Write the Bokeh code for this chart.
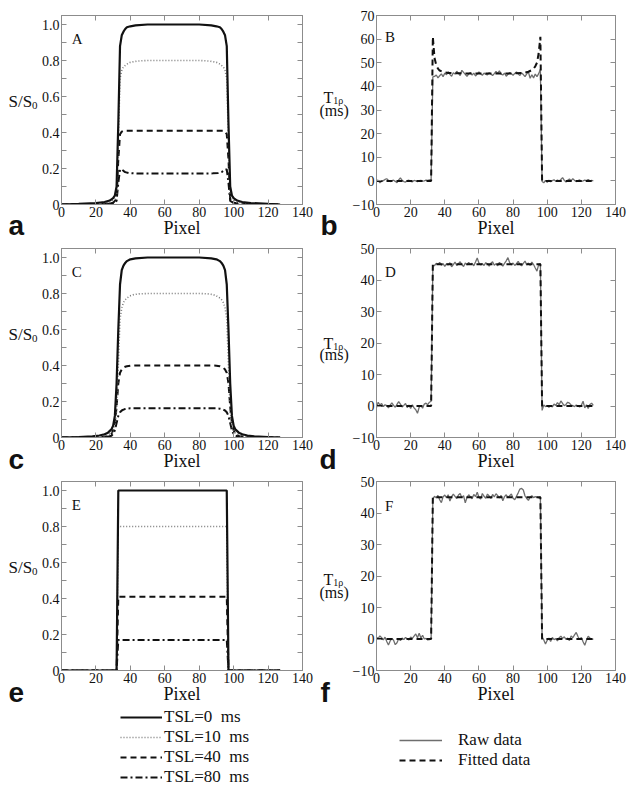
from bokeh.plotting import figure
from bokeh.layouts import column, row
from bokeh.models import (LinearAxis, FixedTicker, Label, Legend, LegendItem,
                          Range1d, PrintfTickFormatter, Plot)
from bokeh.core.properties import value
from bokeh.embed import file_html
from bokeh.resources import INLINE

SERIF = "Liberation Serif"
SANS = "Liberation Sans"
GRAY = "#8c8c8c"
INK = "#111111"
NAN = float("nan")

# ---------------- data ----------------
PIXELS = list(range(128))
X_TICKS = [0, 20, 40, 60, 80, 100, 120, 140]
S_TICKS = [0, 0.2, 0.4, 0.6, 0.8, 1.0]
S_MINOR = [0.1, 0.3, 0.5, 0.7, 0.9]
T_TICKS_B = [-10, 0, 10, 20, 30, 40, 50, 60, 70]
T_TICKS_DF = [-10, 0, 10, 20, 30, 40, 50]
TSL_LABELS = ["TSL=0\u2002ms", "TSL=10\u2002ms", "TSL=40\u2002ms", "TSL=80\u2002ms"]
T1R_LABELS = ["Raw data", "Fitted data"]
PANEL_TAGS = ["A", "B", "C", "D", "E", "F"]
PANEL_LETTERS = ["a", "b", "c", "d", "e", "f"]

# panel A : simulated signal, TSL = 0, 10, 40, 80 ms
A_X0 = [0, 10, 20, 25, 28, 30, 31, 32, 33, 34, 35, 36, 37, 38, 40, 43, 50, 65, 80, 87,
        90, 92, 93, 94, 95, 96, 97, 98, 99, 100, 102, 105, 110, 120, 127]
A_Y0 = [0.0, 0.003, 0.008, 0.014, 0.022, 0.035, 0.05, 0.1, 0.45, 0.88, 0.94, 0.96, 0.975, 0.985, 0.99, 0.995, 1.0, 1.0, 1.0, 0.995,
        0.99, 0.985, 0.975, 0.96, 0.94, 0.88, 0.45, 0.1, 0.05, 0.035, 0.022, 0.014, 0.008, 0.003, 0.0]
A_X1 = [0, 20, 28, 31, 32, 33, 34, 35, 36, 38, 40, 44, 50, 65, 80, 86, 90, 92, 94, 95,
        96, 97, 98, 99, 102, 110, 127]
A_Y1 = [0.0, 0.004, 0.012, 0.03, 0.06, 0.35, 0.7, 0.745, 0.765, 0.78, 0.79, 0.797, 0.8, 0.8, 0.8, 0.797, 0.79, 0.78, 0.765, 0.745,
        0.7, 0.35, 0.06, 0.03, 0.012, 0.004, 0.0]
A_X2 = [0, 25, 30, 32, 33, 34, 35, 36, 38, 65, 92, 94, 95, 96, 97, 98, 100, 105, 127]
A_Y2 = [0.0, 0.003, 0.01, 0.03, 0.25, 0.39, 0.405, 0.41, 0.41, 0.41, 0.41, 0.41, 0.405, 0.39, 0.25, 0.03, 0.01, 0.003, 0.0]
A_X3 = [0, 25, 30, 32, 33, 34, 35, 36, 37, 39, 42, 50, 65, 80, 88, 91, 93, 94, 95, 96,
        97, 98, 100, 105, 127]
A_Y3 = [0.0, 0.002, 0.008, 0.02, 0.12, 0.195, 0.195, 0.187, 0.18, 0.175, 0.173, 0.172, 0.172, 0.172, 0.173, 0.175, 0.18, 0.187, 0.195, 0.195,
        0.12, 0.02, 0.008, 0.002, 0.0]

# panel C
C_X0 = [0, 10, 18, 22, 25, 27, 29, 30, 31, 32, 33, 34, 35, 36, 37, 38, 40, 43, 50, 65,
        80, 87, 90, 92, 93, 94, 95, 96, 97, 98, 99, 100, 101, 103, 105, 108, 112, 120, 127]
C_Y0 = [0.0, 0.002, 0.006, 0.011, 0.018, 0.027, 0.045, 0.065, 0.12, 0.3, 0.6, 0.85, 0.93, 0.955, 0.97, 0.98, 0.99, 0.995, 1.0, 1.0,
        1.0, 0.995, 0.99, 0.98, 0.97, 0.955, 0.93, 0.85, 0.6, 0.3, 0.12, 0.065, 0.045, 0.027, 0.018, 0.011, 0.006, 0.002, 0.0]
C_X1 = [0, 20, 26, 29, 31, 32, 33, 34, 35, 36, 37, 38, 40, 42, 45, 50, 65, 80, 85, 88,
        90, 92, 93, 94, 95, 96, 97, 98, 99, 101, 104, 110, 127]
C_Y1 = [0.0, 0.003, 0.01, 0.025, 0.06, 0.15, 0.4, 0.66, 0.72, 0.75, 0.765, 0.775, 0.787, 0.794, 0.798, 0.8, 0.8, 0.8, 0.798, 0.794,
        0.787, 0.775, 0.765, 0.75, 0.72, 0.66, 0.4, 0.15, 0.06, 0.025, 0.01, 0.003, 0.0]
C_X2 = [0, 22, 27, 29, 30, 31, 32, 33, 34, 35, 36, 37, 38, 40, 43, 50, 65, 80, 87, 90,
        92, 93, 94, 95, 96, 97, 98, 99, 100, 101, 103, 108, 127]
C_Y2 = [0.0, 0.002, 0.008, 0.02, 0.04, 0.08, 0.17, 0.3, 0.36, 0.378, 0.388, 0.393, 0.396, 0.399, 0.4, 0.4, 0.4, 0.4, 0.4, 0.399,
        0.396, 0.393, 0.388, 0.378, 0.36, 0.3, 0.17, 0.08, 0.04, 0.02, 0.008, 0.002, 0.0]
C_X3 = C_X2
C_Y3 = [0.0, 0.001, 0.004, 0.01, 0.02, 0.04, 0.08, 0.12, 0.14, 0.15, 0.155, 0.158, 0.16, 0.162, 0.162, 0.162, 0.162, 0.162, 0.162, 0.162,
        0.16, 0.158, 0.155, 0.15, 0.14, 0.12, 0.08, 0.04, 0.02, 0.01, 0.004, 0.001, 0.0]

# panel E
E_X = [0, 32, 33, 96, 97, 127]
E_Y0 = [0.0, 0.0, 1.0, 1.0, 0.0, 0.0]
E_Y1 = [0.0, 0.0, 0.8, 0.8, 0.0, 0.0]
E_Y2 = [0.0, 0.0, 0.41, 0.41, 0.0, 0.0]
E_Y3 = [0.0, 0.0, 0.17, 0.17, 0.0, 0.0]

# panel B : T1rho, raw (per pixel) and fitted
B_RAW = [0.3, 0.2, -0.8, -0.2, 0.1, 0.6, 0.9, 0.2, -0.3, 0.1,
         0.3, -0.2, -0.8, 0.4, 1.3, 0.2, -0.3, -0.5, 0.1, 0.3,
         -0.2, -0.4, 0.2, 0.0, -0.3, 0.1, 0.2, -0.1, 0.0, 0.3,
         0.2, 0.4, 0.5, 44.0, 44.2, 44.8, 43.6, 44.5, 45.3, 44.1,
         45.6, 44.9, 46.2, 45.1, 44.3, 45.8, 45.2, 46.4, 45.5, 44.6,
         46.8, 45.9, 45.1, 44.2, 45.3, 45.9, 44.8, 45.6, 44.4, 45.2,
         46.1, 45.3, 44.7, 45.6, 45.1, 44.9, 45.8, 45.2, 44.6, 45.4,
         46.3, 45.5, 46.6, 45.2, 44.8, 45.6, 44.3, 45.1, 45.9, 45.3,
         44.7, 45.5, 46.1, 45.2, 44.6, 45.7, 45.0, 44.1, 45.3, 46.0,
         43.4, 44.9, 43.6, 45.2, 44.1, 45.4, 47.2, -0.3, -0.8, 0.2,
         -0.6, 0.3, -0.4, 0.1, 0.5, -0.2, 0.4, -0.1, 0.6, 1.4,
         0.2, -0.5, 0.3, 0.8, 0.1, 0.9, 0.2, -0.3, 0.1, 0.4,
         -0.2, 0.0, 0.3, 0.1, 0.6, 0.0, 0.2, 0.0]
B_FIT_X = [0, 32, 33, 34, 35, 36, 37, 39, 42, 50, 65, 80, 86, 89, 91, 92, 93, 94, 95, 96, 97, 127]
B_FIT_Y = [0.0, 0.0, 61.0, 52.0, 49.0, 47.5, 46.7, 46.1, 45.7, 45.5, 45.5, 45.5, 45.7, 46.2, 46.9, 47.5, 48.5, 50.0, 54.0, 61.0, 0.0, 0.0]

# panel D
D_RAW = [-0.5, 1.2, 0.3, 0.8, -0.2, 0.4, 0.1, -0.6, 0.3, 1.0,
         0.2, -0.4, 0.5, 1.4, 0.6, -0.3, 0.2, 0.8, -0.5, 0.3,
         -0.8, 0.4, -0.6, -1.2, -2.3, -0.4, 0.2, -0.7, 0.6, 0.9,
         0.4, 1.2, 1.5, 44.5, 44.6, 45.3, 44.9, 45.6, 44.7, 45.2,
         44.3, 45.1, 44.8, 45.5, 44.2, 44.9, 45.7, 44.6, 45.2, 45.8,
         44.9, 44.3, 45.4, 44.8, 45.6, 44.9, 45.3, 44.5, 45.7, 47.0,
         45.4, 44.8, 45.2, 44.6, 45.5, 45.1, 44.4, 45.3, 45.8, 44.7,
         45.2, 44.5, 45.6, 45.0, 44.4, 45.3, 46.1, 47.1, 45.5, 44.8,
         45.4, 44.6, 45.2, 45.9, 45.0, 44.5, 45.3, 46.0, 44.8, 45.4,
         44.6, 45.7, 44.9, 43.8, 42.8, 44.9, 45.2, -1.4, 0.3, -0.2,
         0.1, -0.4, 0.2, -0.3, 0.6, 0.2, 1.1, 0.4, 1.6, 0.8,
         0.1, 0.5, 1.2, 0.9, 0.3, 0.1, -0.2, 0.3, 0.0, -0.3,
         0.2, 1.5, -0.6, 0.4, -0.8, 0.5, 0.9, 0.2]
D_FIT_X = [0, 32, 33, 96, 97, 127]
D_FIT_Y = [0.0, 0.0, 45.0, 45.0, 0.0, 0.0]

# panel F
F_RAW = [0.5, 0.2, 1.0, 0.4, -0.3, 0.6, -0.8, -1.9, -0.6, 0.2,
         -0.4, -1.8, -1.2, 0.1, -0.5, 0.3, -0.2, 0.5, 0.1, -0.3,
         0.6, 0.2, 0.9, 1.6, 0.4, 1.8, 0.3, 1.2, 0.0, 0.2,
         -0.3, -0.2, 0.1, 44.5, 45.3, 44.8, 45.6, 44.2, 43.3, 45.1,
         45.7, 44.9, 45.8, 43.8, 45.2, 46.0, 45.3, 44.6, 45.7, 46.2,
         44.8, 45.5, 43.2, 44.9, 45.8, 45.1, 44.5, 45.9, 45.2, 46.6,
         45.0, 44.4, 46.2, 45.3, 44.7, 46.0, 45.4, 44.6, 45.9, 45.1,
         46.1, 45.5, 44.8, 45.6, 43.9, 45.2, 45.8, 44.9, 45.5, 46.0,
         44.7, 44.2, 45.3, 46.4, 47.6, 47.8, 47.3, 45.4, 44.6, 44.0,
         45.1, 45.5, 44.9, 45.2, 45.0, 44.8, 45.1, 0.6, -0.3, -1.6,
         -0.4, 0.3, -0.8, 0.5, -0.2, 0.1, -0.6, 0.4, 0.9, 0.2,
         0.7, -0.1, 0.3, -0.5, 1.0, 0.4, 1.3, 2.1, 0.8, -0.2,
         0.5, -0.9, -2.0, -0.4, 0.9, 0.3, -0.1, 0.0]
F_FIT_X = [0, 32, 33, 96, 97, 127]
F_FIT_Y = [0.0, 0.0, 45.0, 45.0, 0.0, 0.0]

# ---------------- layout geometry (px) ----------------
FRAME_H = 189
TOP_BORDERS = [15, 7, 7]
BOTTOM_BORDER = 37
STRIP_L_W, MAIN_L_W, STRIP_R_W, MAIN_R_W = 38, 278, 33, 279
MAIN_L_BORDER = (20, 14)
MAIN_R_BORDER = (24, 13)
LEGEND_H = 83

NO_ALIGN = {"frame_align": False} if "frame_align" in Plot.properties() else {}

TSL_STYLES = [dict(line_color=INK, line_width=2.2, line_dash="solid"),
              dict(line_color="#7a7a7a", line_width=1.6, line_dash="1 2"),
              dict(line_color=INK, line_width=2.0, line_dash="6 4"),
              dict(line_color=INK, line_width=2.0, line_dash="7 3 2 3")]
RAW_STYLE = dict(line_color="#6e6e6e", line_width=1.3, line_dash="solid")
FIT_STYLE = dict(line_color=INK, line_width=2.0, line_dash="6 4")


def row_h(i):
    return TOP_BORDERS[i] + FRAME_H + BOTTOM_BORDER


def style_axis(ax, ticker, labels=True):
    ax.ticker = ticker
    ax.axis_line_color = GRAY
    ax.major_tick_line_color = GRAY
    ax.minor_tick_line_color = GRAY
    ax.major_tick_in = 5
    ax.major_tick_out = 0
    ax.minor_tick_in = 5
    ax.minor_tick_out = 0
    if labels:
        ax.major_label_text_font = SERIF
        ax.major_label_text_font_size = "14px"
        ax.major_label_text_color = INK
        ax.major_label_standoff = 2
    else:
        ax.major_label_text_color = None
        ax.major_label_text_alpha = 0
        ax.major_label_text_font_size = "0px"
        ax.major_label_standoff = 0


def main_fig(rowi, width, borders, y_lo, y_hi, y_ticks, y_minor, tag, tag_x, tag_y):
    p = figure(width=width, height=row_h(rowi),
               x_range=Range1d(0, 140), y_range=Range1d(y_lo, y_hi),
               output_backend="svg", toolbar_location=None,
               min_border_left=borders[0], min_border_right=borders[1],
               min_border_top=TOP_BORDERS[rowi], min_border_bottom=BOTTOM_BORDER,
               **NO_ALIGN)
    p.grid.visible = False
    p.outline_line_color = GRAY
    p.background_fill_color = "white"
    p.border_fill_color = "white"
    style_axis(p.xaxis[0], FixedTicker(ticks=X_TICKS, minor_ticks=[]))
    style_axis(p.yaxis[0], FixedTicker(ticks=y_ticks, minor_ticks=y_minor))
    p.xaxis[0].axis_label = "Pixel"
    p.xaxis[0].axis_label_text_font = SERIF
    p.xaxis[0].axis_label_text_font_size = "18px"
    p.xaxis[0].axis_label_text_font_style = "normal"
    p.xaxis[0].axis_label_text_color = INK
    p.xaxis[0].axis_label_standoff = -2
    top = LinearAxis()
    style_axis(top, FixedTicker(ticks=X_TICKS, minor_ticks=[]), labels=False)
    p.add_layout(top, "above")
    right = LinearAxis()
    style_axis(right, FixedTicker(ticks=y_ticks, minor_ticks=y_minor), labels=False)
    p.add_layout(right, "right")
    p.add_layout(Label(x=tag_x, y=tag_y, text=tag, text_font=SERIF, text_font_size="15px",
                       text_color=INK, text_baseline="alphabetic"))
    return p


def signal_fig(rowi, curves, tag):
    p = main_fig(rowi, MAIN_L_W, MAIN_L_BORDER, 0, 1.05, S_TICKS, S_MINOR, tag, 6.0, 0.92)
    p.yaxis[0].formatter = PrintfTickFormatter(format="%.1f")
    p.yaxis[0].major_label_overrides = {0: "0"}
    rends = []
    for (xs, ys), st in zip(curves[::-1], TSL_STYLES[::-1]):
        rends.append(p.line(xs, ys, **st))
    return p, rends[::-1]


def t1_fig(rowi, y_lo, y_hi, y_ticks, raw, fx, fy, tag, tag_y):
    p = main_fig(rowi, MAIN_R_W, MAIN_R_BORDER, y_lo, y_hi, y_ticks, [], tag, 5.0, tag_y)
    r_raw = p.line(PIXELS, raw, **RAW_STYLE)
    r_fit = p.line(fx, fy, **FIT_STYLE)
    return p, [r_raw, r_fit]


def text_strip(width, height, items):
    """items: (x px from left, baseline px from top, text, size, font, bold)"""
    s = figure(width=width, height=height, x_range=Range1d(0, width), y_range=Range1d(height, 0),
               output_backend="svg", toolbar_location=None,
               x_axis_location=None, y_axis_location=None,
               min_border_left=0, min_border_right=0, min_border_top=0, min_border_bottom=0,
               **NO_ALIGN)
    s.grid.visible = False
    s.outline_line_color = None
    s.background_fill_color = "white"
    s.border_fill_color = "white"
    for x, y, t, size, font, bold in items:
        s.text(x=[x], y=[y], text=[t], text_font=value(font), text_font_size=value(size),
               text_font_style="bold" if bold else "normal", text_color=INK,
               text_align="left", text_baseline="alphabetic")
    return s


def left_strip(rowi, letter, letter_drop):
    top = TOP_BORDERS[rowi]
    base = top + 86
    return text_strip(STRIP_L_W, row_h(rowi), [
        (8, base, "S/S", "17px", SERIF, False),
        (31.5, base + 3.5, "0", "11px", SERIF, False),
        (8, top + FRAME_H + letter_drop, letter, "28px", SANS, True)])


def right_strip(rowi, letter, letter_x, letter_drop, t_y, ms_y):
    top = TOP_BORDERS[rowi]
    return text_strip(STRIP_R_W, row_h(rowi), [
        (7, t_y, "T", "16px", SERIF, False),
        (16.8, t_y + 3, "1\u03c1", "10px", SERIF, False),
        (3, ms_y, "(ms)", "16px", SERIF, False),
        (letter_x, top + FRAME_H + letter_drop, letter, "28px", SANS, True)])


pA, _ = signal_fig(0, [(A_X0, A_Y0), (A_X1, A_Y1), (A_X2, A_Y2), (A_X3, A_Y3)], PANEL_TAGS[0])
pC, _ = signal_fig(1, [(C_X0, C_Y0), (C_X1, C_Y1), (C_X2, C_Y2), (C_X3, C_Y3)], PANEL_TAGS[2])
pE, _ = signal_fig(2, [(E_X, E_Y0), (E_X, E_Y1), (E_X, E_Y2), (E_X, E_Y3)], PANEL_TAGS[4])

pB, _ = t1_fig(0, -10, 70, T_TICKS_B, B_RAW, B_FIT_X, B_FIT_Y, PANEL_TAGS[1], 61.0)
pD, _ = t1_fig(1, -10, 50, T_TICKS_DF, D_RAW, D_FIT_X, D_FIT_Y, PANEL_TAGS[3], 42.5)
pF, _ = t1_fig(2, -10, 50, T_TICKS_DF, F_RAW, F_FIT_X, F_FIT_Y, PANEL_TAGS[5], 42.3)

lsA = left_strip(0, PANEL_LETTERS[0], 21)
lsC = left_strip(1, PANEL_LETTERS[2], 22)
lsE = left_strip(2, PANEL_LETTERS[4], 22)
rsB = right_strip(0, PANEL_LETTERS[1], 4, 21, 97, 109.5)
rsD = right_strip(1, PANEL_LETTERS[3], 3, 22, 102, 113)
rsF = right_strip(2, PANEL_LETTERS[5], 4, 22, 105, 118)

# ---------------- legend strip ----------------
leg = figure(width=STRIP_L_W + MAIN_L_W + STRIP_R_W + MAIN_R_W, height=LEGEND_H,
             x_range=Range1d(0, 1), y_range=Range1d(0, 1),
             output_backend="svg", toolbar_location=None,
             x_axis_location=None, y_axis_location=None,
             min_border_left=0, min_border_right=0, min_border_top=0, min_border_bottom=0,
             **NO_ALIGN)
leg.grid.visible = False
leg.outline_line_color = None
leg.background_fill_color = "white"
leg.border_fill_color = "white"
tsl_keys = [leg.line(x=[NAN], y=[NAN], **st) for st in TSL_STYLES]
t1_keys = [leg.line(x=[NAN], y=[NAN], **st) for st in (RAW_STYLE, FIT_STYLE)]


def add_legend(fig, labels, rends, loc, glyph_w, standoff):
    lg = Legend(items=[LegendItem(label=l, renderers=[r]) for l, r in zip(labels, rends)],
                location=loc, orientation="vertical",
                glyph_width=glyph_w, glyph_height=20, label_height=20,
                label_standoff=standoff, spacing=0, padding=0, margin=0,
                border_line_color=None, background_fill_color=None,
                background_fill_alpha=0,
                label_text_font=SERIF, label_text_font_size="17px",
                label_text_color=INK)
    fig.add_layout(lg)


add_legend(leg, TSL_LABELS, tsl_keys, (120, LEGEND_H - 80), 42, 2)
add_legend(leg, T1R_LABELS, t1_keys, (399, LEGEND_H - 63), 43, 16)

layout = column(row(lsA, pA, rsB, pB),
                row(lsC, pC, rsD, pD),
                row(lsE, pE, rsF, pF),
                leg)

with open("out.html", "w") as fh:
    fh.write(file_html(layout, INLINE))
